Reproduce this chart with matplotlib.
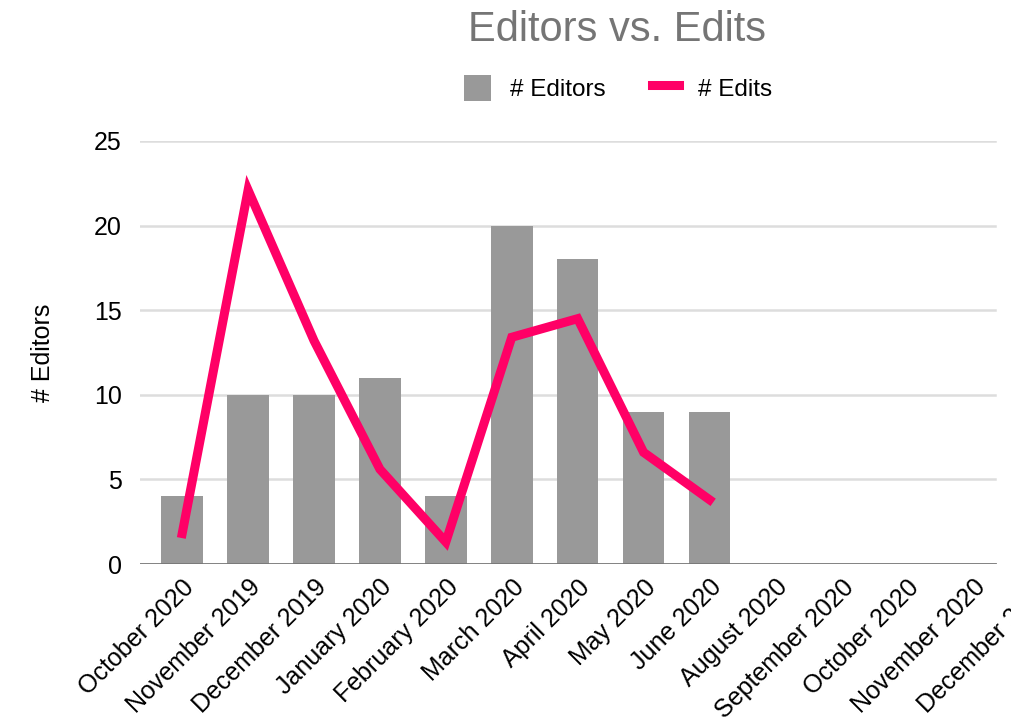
import numpy as np
import matplotlib.pyplot as plt

plt.rcParams['font.family'] = ['Liberation Sans', 'DejaVu Sans']

# Data
months = ["October 2020", "November 2019", "December 2019", "January 2020",
          "February 2020", "March 2020", "April 2020", "May 2020", "June 2020",
          "August 2020", "September 2020", "October 2020", "November 2020",
          "December 2020"]
editors = [4, 10, 10, 11, 4, 20, 18, 9, 9]
edits = [1.8, 22.1, 13.2, 5.6, 1.3, 13.4, 14.5, 6.6, 3.8]

bar_color = "#999999"
line_color = "#FF0066"

fig = plt.figure(figsize=(10.11, 7.28), dpi=100)
# plot area runs past the right edge, like the cropped original
ax = fig.add_axes([140 / 1011, 164 / 728, 932 / 1011, 423 / 728])

x = np.arange(len(months))
bars = ax.bar(x[:len(editors)], editors, width=0.63, color=bar_color, label="# Editors", zorder=2)
line, = ax.plot(x[:len(edits)], edits, color=line_color, lw=6.5, solid_joinstyle='miter',
                label="# Edits", zorder=3)

ax.set_xlim(-0.64, 13.5)
ax.set_ylim(0, 25)
ax.set_yticks([0, 5, 10, 15, 20, 25])
ax.set_xticks(x)
ax.set_xticklabels(months, rotation=45, ha='right', rotation_mode='anchor', fontsize=18)
ax.tick_params(axis='y', labelsize=18, length=0, pad=13)
ax.tick_params(axis='x', length=0, pad=8)

grid_end = (995 - 140) / 932
for yv in [5, 10, 15, 20, 25]:
    ax.axhline(yv, xmin=0, xmax=grid_end, color="#dddddd", lw=1.8, zorder=1)
ax.axhline(0, xmin=0, xmax=grid_end, color="#777777", lw=2, zorder=4)
for s in ax.spines.values():
    s.set_visible(False)

ax.set_ylabel("# Editors", fontsize=18, labelpad=28)

fig.suptitle("Editors vs. Edits", x=617 / 1011, y=1 - 10 / 728, fontsize=30, color="#757575")
fig.legend([bars, line], ["# Editors", "# Edits"], loc='center',
           bbox_to_anchor=(618 / 1011, 1 - 88 / 728), ncol=2, frameon=False,
           fontsize=17.5, handlelength=1.1, handleheight=1.3, handletextpad=0.8,
           columnspacing=1.9)

fig.savefig("out.png", dpi=100)
